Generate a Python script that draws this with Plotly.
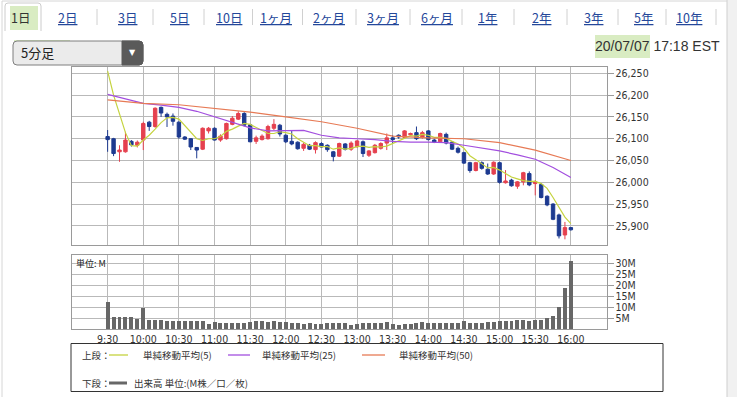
import plotly.graph_objects as go
import pandas as pd

W, H = 737, 397

# ---------------- data ----------------
times = pd.date_range("2020-07-07 09:30", periods=79, freq="5min")

open_ = [26105, 26100, 26070, 26070, 26094, 26085, 26097, 26138, 26128, 26172,
         26156, 26152, 26138, 26104, 26100, 26080, 26076, 26118, 26124, 26097,
         26100, 26133, 26145, 26158, 26132, 26094, 26098, 26100, 26124, 26131,
         26108, 26094, 26092, 26078, 26085, 26075, 26089, 26085, 26070, 26060,
         26088, 26076, 26082, 26093, 26062, 26068, 26078, 26090, 26102, 26108,
         26103, 26109, 26114, 26104, 26118, 26097, 26093, 26110, 26092, 26078,
         26068, 26045, 26027, 26045, 26030, 26019, 26045, 25999, 26005, 25991,
         26001, 26020, 25997, 25995, 25968, 25950, 25925, 25879, 25896]
high = [26120, 26102, 26085, 26116, 26097, 26096, 26139, 26141, 26172, 26174,
        26160, 26158, 26140, 26106, 26101, 26081, 26126, 26127, 26126, 26110,
        26137, 26152, 26163, 26161, 26134, 26107, 26110, 26132, 26145, 26134,
        26110, 26120, 26094, 26091, 26088, 26094, 26092, 26087, 26072, 26091,
        26090, 26094, 26097, 26096, 26074, 26088, 26092, 26112, 26108, 26110,
        26120, 26114, 26128, 26118, 26120, 26100, 26114, 26114, 26095, 26082,
        26070, 26047, 26047, 26048, 26043, 26048, 26047, 26028, 26008, 26003,
        26024, 26025, 26005, 25998, 25970, 25952, 25928, 25909, 25897]
low = [26070, 26060, 26047, 26068, 26082, 26080, 26074, 26118, 26125, 26150,
       26127, 26130, 26100, 26097, 26074, 26055, 26074, 26112, 26096, 26093,
       26098, 26131, 26143, 26128, 26092, 26088, 26096, 26098, 26120, 26105,
       26090, 26085, 26075, 26072, 26074, 26066, 26080, 26070, 26048, 26058,
       26073, 26072, 26079, 26058, 26058, 26066, 26075, 26074, 26090, 26100,
       26101, 26106, 26097, 26100, 26096, 26090, 26091, 26087, 26074, 26066,
       26042, 26022, 26025, 26029, 26017, 26017, 25997, 25997, 25990, 25985,
       25993, 25991, 25970, 25963, 25945, 25913, 25871, 25869, 25889]
close = [26098, 26066, 26074, 26097, 26086, 26092, 26135, 26128, 26170, 26159,
         26150, 26140, 26104, 26099, 26081, 26074, 26124, 26124, 26097, 26106,
         26135, 26147, 26158, 26131, 26093, 26102, 26106, 26128, 26133, 26111,
         26093, 26088, 26077, 26087, 26076, 26091, 26081, 26075, 26059, 26089,
         26076, 26090, 26095, 26066, 26072, 26085, 26089, 26102, 26098, 26104,
         26118, 26112, 26100, 26114, 26098, 26092, 26112, 26090, 26076, 26069,
         26044, 26027, 26045, 26032, 26019, 26046, 26000, 26003, 25992, 26001,
         26022, 25994, 26001, 25965, 25948, 25915, 25877, 25896, 25891]

ma5 = [26255, 26200, 26157, 26114, 26084, 26083, 26097, 26108, 26122, 26137,
       26148, 26149, 26145, 26130, 26115, 26100, 26096, 26100, 26100, 26105,
       26117, 26122, 26129, 26135, 26133, 26126, 26118, 26112, 26112, 26116,
       26114, 26111, 26100, 26091, 26084, 26084, 26082, 26082, 26076, 26079,
       26076, 26078, 26082, 26083, 26080, 26082, 26081, 26083, 26089, 26096,
       26102, 26107, 26106, 26110, 26108, 26103, 26103, 26101, 26094, 26088,
       26078, 26061, 26052, 26043, 26033, 26034, 26028, 26020, 26012, 26008,
       26004, 26002, 26002, 25997, 25986, 25965, 25941, 25920, 25905]

ma25_times = ["09:30", "09:45", "10:00", "10:15", "10:30", "10:45", "11:00", "11:15",
              "11:30", "11:45", "12:00", "12:15", "12:30", "12:45", "13:00", "13:15",
              "13:30", "13:45", "14:00", "14:15", "14:30", "14:45", "15:00", "15:15",
              "15:30", "15:45", "16:00"]
ma25 = [26202, 26191, 26181, 26177, 26172, 26163, 26150, 26138,
        26125, 26118, 26119, 26119, 26108, 26102, 26100, 26098,
        26094, 26092, 26092, 26091, 26085, 26078, 26072, 26063,
        26053, 26034, 26011]

ma50_times = ["09:30", "10:00", "10:30", "11:00", "11:30", "12:00", "12:30", "13:00",
              "13:30", "14:00", "14:30", "15:00", "15:30", "16:00"]
ma50 = [26189, 26181, 26178, 26170, 26161, 26150, 26139, 26124,
        26106, 26102, 26100, 26091, 26074, 26050]

volume = [12.6, 5.8, 5.4, 5.4, 5.4, 4.8, 9.8, 4.3, 4.3, 4.3,
          4.0, 4.0, 4.0, 4.0, 3.6, 3.6, 3.6, 2.6, 3.2, 3.0,
          3.0, 3.0, 2.8, 2.8, 3.4, 3.6, 3.6, 3.2, 3.6, 3.4,
          3.4, 3.0, 3.0, 2.6, 3.0, 2.6, 2.2, 3.0, 3.0, 2.7,
          2.7, 1.8, 2.4, 2.7, 2.7, 2.7, 2.7, 3.1, 2.2, 1.8,
          2.5, 2.4, 2.8, 3.1, 2.7, 2.7, 2.7, 2.7, 2.7, 2.7,
          3.9, 2.7, 2.7, 2.7, 3.5, 3.3, 3.6, 3.6, 3.9, 4.4,
          4.4, 3.8, 4.2, 4.4, 5.0, 6.1, 10.2, 18.7, 31.3]

time_ticks = ["9:30", "10:00", "10:30", "11:00", "11:30", "12:00", "12:30",
              "13:00", "13:30", "14:00", "14:30", "15:00", "15:30", "16:00"]
price_ticks = [25900, 25950, 26000, 26050, 26100, 26150, 26200, 26250]
vol_ticks = [5, 10, 15, 20, 25, 30]

tabs = ["1日", "2日", "3日", "5日", "10日", "1ヶ月", "2ヶ月", "3ヶ月", "6ヶ月",
        "1年", "2年", "3年", "5年", "10年"]
legend_labels = ["単純移動平均(5)", "単純移動平均(25)", "単純移動平均(50)"]

# ---------------- styles ----------------
UP = "#e5404f"
DN = "#1d3a90"
C5 = "#c5d33f"
C25 = "#a34fdf"
C50 = "#e77a55"
VOLC = "#676767"
GRID = "#b9b9b9"
FRAME = "#9a9a9a"
TXT = "#333333"
NUMFONT = "DejaVu Sans Condensed, DejaVu Sans"
JPFONT = "Noto Sans CJK JP"


def px(x):
    return x / W


def py(y):
    return 1 - y / H


def t(hhmm):
    return pd.Timestamp("2020-07-07 " + hhmm)


tick_times = [t(s if len(s) == 5 else "0" + s) for s in time_ticks]

fig = go.Figure()

fig.add_trace(go.Candlestick(
    x=times, open=open_, high=high, low=low, close=close,
    xaxis="x", yaxis="y",
    increasing=dict(line=dict(color=UP, width=1), fillcolor=UP),
    decreasing=dict(line=dict(color=DN, width=1), fillcolor=DN),
    whiskerwidth=0, showlegend=False, hoverinfo="skip"))

fig.add_trace(go.Scatter(x=times, y=ma5, mode="lines", xaxis="x", yaxis="y",
                         line=dict(color=C5, width=1.2), showlegend=False, hoverinfo="skip"))
fig.add_trace(go.Scatter(x=[t(s) for s in ma25_times], y=ma25, mode="lines", xaxis="x", yaxis="y",
                         line=dict(color=C25, width=1.2), showlegend=False, hoverinfo="skip"))
fig.add_trace(go.Scatter(x=[t(s) for s in ma50_times], y=ma50, mode="lines", xaxis="x", yaxis="y",
                         line=dict(color=C50, width=1.2), showlegend=False, hoverinfo="skip"))

fig.add_trace(go.Bar(x=times, y=volume, xaxis="x2", yaxis="y2", width=200000,
                     marker=dict(color=VOLC, line=dict(width=0)),
                     showlegend=False, hoverinfo="skip"))

xdom = [px(72), px(606.5)]
xrange_ = [t("09:00"), t("16:30")]

common_x = dict(domain=xdom, type="date", range=xrange_, tickmode="array",
                tickvals=tick_times, showgrid=True, gridcolor=GRID, gridwidth=1,
                showline=True, mirror=True, linecolor=FRAME, linewidth=1,
                zeroline=False, fixedrange=True)

fig.update_layout(
    width=W, height=H,
    margin=dict(l=0, r=0, t=0, b=0),
    paper_bgcolor="white", plot_bgcolor="white",
    bargap=0, boxgap=0.18,
    xaxis=dict(**common_x, anchor="y", showticklabels=False, ticks="",
               rangeslider=dict(visible=False)),
    xaxis2=dict(**common_x, anchor="y2", showticklabels=True, ticks="",
                ticktext=time_ticks,
                tickfont=dict(family=NUMFONT, size=10.5, color=TXT)),
    yaxis=dict(domain=[py(245), py(67.3)], range=[25856, 26264], side="right",
               anchor="x", tickmode="array", tickvals=price_ticks,
               ticktext=[f"{v:,}" for v in price_ticks],
               ticks="outside", ticklen=6, tickcolor=FRAME,
               tickfont=dict(family=NUMFONT, size=10.5, color=TXT),
               showgrid=True, gridcolor=GRID, showline=True, mirror=True,
               linecolor=FRAME, zeroline=False, fixedrange=True),
    yaxis2=dict(domain=[py(329.3), py(255)], range=[0, 33.8], side="right",
                anchor="x2", tickmode="array", tickvals=vol_ticks,
                ticktext=[f"{v}M" for v in vol_ticks],
                ticks="outside", ticklen=6, tickcolor=FRAME,
                tickfont=dict(family=NUMFONT, size=10.5, color=TXT),
                showgrid=True, gridcolor=GRID, showline=True, mirror=True,
                linecolor=FRAME, zeroline=False, fixedrange=True),
)

shapes = []
ann = []

# page borders
shapes.append(dict(type="rect", xref="paper", yref="paper", x0=px(727), x1=1, y0=0, y1=1,
                   fillcolor="#f1f1f1", line=dict(width=0), layer="below"))
shapes.append(dict(type="line", xref="paper", yref="paper", x0=px(727), x1=px(727), y0=0, y1=1,
                   line=dict(color="#cfcfcf", width=1)))
shapes.append(dict(type="line", xref="paper", yref="paper", x0=px(2), x1=px(2), y0=0, y1=py(1),
                   line=dict(color="#d6d6d6", width=1)))
shapes.append(dict(type="line", xref="paper", yref="paper", x0=px(2), x1=px(727), y0=py(1), y1=py(1),
                   line=dict(color="#d6d6d6", width=1)))

# highlights (green marker)
for (x0, y0, x1, y1) in [(10, 6, 38, 30), (14, 40, 70, 61), (595, 35, 650, 58)]:
    shapes.append(dict(type="rect", xref="paper", yref="paper", x0=px(x0), x1=px(x1),
                       y0=py(y1), y1=py(y0), fillcolor="rgba(170,212,120,0.45)",
                       line=dict(width=0), layer="below"))

# selected tab outline
shapes.append(dict(type="path", xref="paper", yref="paper",
                   path=f"M {px(5)},{py(31)} L {px(5)},{py(6)} Q {px(5)},{py(3)} {px(8)},{py(3)} "
                        f"L {px(38)},{py(3)} Q {px(41)},{py(3)} {px(41)},{py(6)} L {px(41)},{py(31)}",
                   line=dict(color="#cccccc", width=1)))

# tabs
tab_x = [20, 67, 127, 179, 229, 276, 329, 383, 437, 487, 541, 593, 643, 689]
for i, (lab, xc) in enumerate(zip(tabs, tab_x)):
    if i == 0:
        txt, col = lab, TXT
    else:
        txt, col = f"<u>{lab}</u>", "#24479a"
    ann.append(dict(x=px(xc), y=py(17), xref="paper", yref="paper", text=txt, showarrow=False,
                    xanchor="center", yanchor="middle",
                    font=dict(family=JPFONT, size=12.5, color=col)))
    if i >= 1:
        sx = (tab_x[i] + tab_x[i + 1]) / 2 if i + 1 < len(tab_x) else 716
        shapes.append(dict(type="line", xref="paper", yref="paper", x0=px(sx), x1=px(sx),
                           y0=py(25), y1=py(9), line=dict(color="#d0d0d0", width=1)))

# dropdown (rounded box)
r = 4
x0d, x1d, y0d, y1d = 13, 143, 41, 65
shapes.append(dict(type="path", xref="paper", yref="paper",
                   path=(f"M {px(x0d + r)},{py(y0d)} L {px(x1d - r)},{py(y0d)} "
                         f"Q {px(x1d)},{py(y0d)} {px(x1d)},{py(y0d + r)} L {px(x1d)},{py(y1d - r)} "
                         f"Q {px(x1d)},{py(y1d)} {px(x1d - r)},{py(y1d)} L {px(x0d + r)},{py(y1d)} "
                         f"Q {px(x0d)},{py(y1d)} {px(x0d)},{py(y1d - r)} L {px(x0d)},{py(y0d + r)} "
                         f"Q {px(x0d)},{py(y0d)} {px(x0d + r)},{py(y0d)} Z"),
                   fillcolor="#ebebeb", line=dict(color="#7f7f7f", width=1), layer="below"))
shapes.append(dict(type="path", xref="paper", yref="paper",
                   path=(f"M {px(122)},{py(y0d)} L {px(x1d - r)},{py(y0d)} "
                         f"Q {px(x1d)},{py(y0d)} {px(x1d)},{py(y0d + r)} L {px(x1d)},{py(y1d - r)} "
                         f"Q {px(x1d)},{py(y1d)} {px(x1d - r)},{py(y1d)} L {px(122)},{py(y1d)} Z"),
                   fillcolor="#5a5a5a", line=dict(color="#5a5a5a", width=1)))
ann.append(dict(x=px(132.5), y=py(52), xref="paper", yref="paper", text="▼", showarrow=False,
                xanchor="center", yanchor="middle", font=dict(family="DejaVu Sans", size=8, color="white")))
ann.append(dict(x=px(19), y=py(52), xref="paper", yref="paper", text="5分足", showarrow=False,
                xanchor="left", yanchor="middle", font=dict(family=JPFONT, size=13, color="#222")))

# date
ann.append(dict(x=px(722), y=py(46), xref="paper", yref="paper", text="20/07/07 17:18 EST",
                showarrow=False, xanchor="right", yanchor="middle",
                font=dict(family="Liberation Sans", size=14, color=TXT)))

# volume unit label
ann.append(dict(x=px(74), y=py(263), xref="paper", yref="paper", text="単位: M",
                showarrow=False, xanchor="left", yanchor="middle",
                font=dict(family=JPFONT, size=9, color="#222")))

# legend box
shapes.append(dict(type="rect", xref="paper", yref="paper", x0=px(71), x1=px(663),
                   y0=py(391.5), y1=py(343.5), line=dict(color="#333", width=1)))
ann.append(dict(x=px(80), y=py(355), xref="paper", yref="paper", text="上段：", showarrow=False,
                xanchor="left", yanchor="middle", font=dict(family=JPFONT, size=9.5, color=TXT)))
ann.append(dict(x=px(80), y=py(383), xref="paper", yref="paper", text="下段：", showarrow=False,
                xanchor="left", yanchor="middle", font=dict(family=JPFONT, size=9.5, color=TXT)))
for (x0, x1, tx, col, lab) in [(109, 128, 141, C5, legend_labels[0]),
                                (228, 250, 260, C25, legend_labels[1]),
                                (362, 385, 397, C50, legend_labels[2])]:
    shapes.append(dict(type="line", xref="paper", yref="paper", x0=px(x0), x1=px(x1),
                       y0=py(355), y1=py(355), line=dict(color=col, width=1.3)))
    ann.append(dict(x=px(tx), y=py(355), xref="paper", yref="paper", text=lab, showarrow=False,
                    xanchor="left", yanchor="middle", font=dict(family=JPFONT, size=9.5, color=TXT)))
shapes.append(dict(type="line", xref="paper", yref="paper", x0=px(109), x1=px(127),
                   y0=py(383), y1=py(383), line=dict(color=VOLC, width=3)))
ann.append(dict(x=px(132), y=py(383), xref="paper", yref="paper", text="出来高 単位:(M株／口／枚)",
                showarrow=False, xanchor="left", yanchor="middle",
                font=dict(family=JPFONT, size=9.5, color=TXT)))

fig.update_layout(shapes=shapes, annotations=ann)
fig.write_html("out.html", config={"displayModeBar": False},
               post_script="document.body.style.margin='0';document.body.style.overflow='hidden';")
